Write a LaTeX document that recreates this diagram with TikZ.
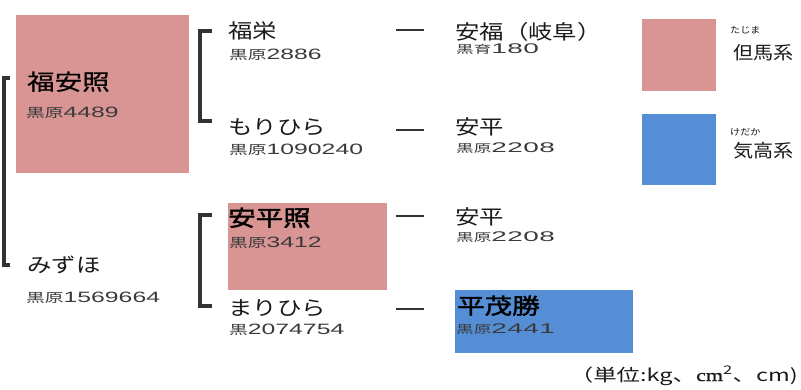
\documentclass[tikz,border=0pt]{standalone}
\usepackage{fontspec}
\setmainfont{Noto Sans CJK JP}
\newfontfamily\nmfont{Noto Sans CJK JP}[FakeStretch=1.22]
\newfontfamily\hnfont{Noto Sans CJK JP}[FakeStretch=1.25,FakeBold=0.6]
\newfontfamily\bnfont{Noto Sans CJK JP}[FakeStretch=1.25,FakeBold=2]
\newfontfamily\kjfont{Noto Sans CJK JP}[FakeStretch=1.5]
\newfontfamily\kjfontR{Noto Sans CJK JP}[FakeStretch=1.6]
\newfontfamily\dgfont{Liberation Sans}[FakeStretch=1.65]
\newfontfamily\dgfontR{Liberation Sans}[FakeStretch=2.0,LetterSpace=3]
\newfontfamily\lgfont{Noto Sans CJK JP}[FakeStretch=1.12]
\newfontfamily\ftfont{Noto Sans CJK JP}[FakeStretch=1.38]
\newfontfamily\serfont{Liberation Serif}[FakeStretch=1.3,FakeBold=1]
\definecolor{pinkc}{HTML}{D99594}
\definecolor{bluec}{HTML}{558ED5}
\definecolor{lnc}{HTML}{333333}
\definecolor{txt}{HTML}{1A1A1A}
\definecolor{subc}{HTML}{3A3A3A}
\newcommand\sublab[2]{{\fontsize{12.5}{12.5}\kjfont #1}{\fontsize{15}{15}\dgfont #2}}
\newcommand\sublabR[2]{{\fontsize{11}{11}\kjfontR #1}{\fontsize{14}{14}\dgfontR #2}}
\begin{document}
\begin{tikzpicture}[x=1pt,y=-1pt,
  nm/.style={anchor=base west, inner sep=0, font=\fontsize{20}{20}\nmfont, text=txt},
  hnm/.style={anchor=base west, inner sep=0, font=\fontsize{22}{22}\hnfont, text=black},
  bnm/.style={anchor=base west, inner sep=0, font=\fontsize{22}{22}\bnfont, text=black},
  sub/.style={anchor=base west, inner sep=0, text=subc},
  lg/.style={anchor=base west, inner sep=0, font=\fontsize{18}{18}\lgfont, text=txt},
  ruby/.style={anchor=base west, inner sep=0, font=\fontsize{9}{9}\lgfont, text=txt},
  br/.style={draw=lnc, line width=3.5pt},
  dsh/.style={draw=lnc, line width=2.5pt},
  boxp/.style={fill=pinkc, draw=none, inner sep=0, anchor=north west},
  boxb/.style={fill=bluec, draw=none, inner sep=0, anchor=north west}]
\useasboundingbox (0,0) rectangle (801,389);
% colored boxes
\node[boxp, minimum width=173pt, minimum height=158pt] (box1) at (16,15) {};
\node[boxp, minimum width=159pt, minimum height=87pt] (box2) at (228,203) {};
\node[boxb, minimum width=178pt, minimum height=63pt] (box3) at (455,290) {};
\node[boxp, minimum width=74pt, minimum height=72pt] (lgp) at (642,19) {};
\node[boxb, minimum width=74pt, minimum height=71pt] (lgb) at (642,114) {};
% generation 1
\node[hnm] (fukuyasu) at (27,90) {福安照};
\node[sub] (fukuyasuN) at (26,117) {\sublab{黒原}{4489}};
\node[nm] (mizuho) at (27,272) {みずほ};
\node[sub] (mizuhoN) at (26,302) {\sublab{黒原}{1569664}};
% generation 2
\node[nm] (fukuei) at (228,38) {福栄};
\node[sub] (fukueiN) at (229,59) {\sublab{黒原}{2886}};
\node[nm] (morihira) at (228,134) {もりひら};
\node[sub] (morihiraN) at (229,154) {\sublab{黒原}{1090240}};
\node[bnm] (yasuhira) at (228,226) {安平照};
\node[sub] (yasuhiraN) at (229,247) {\sublab{黒原}{3412}};
\node[nm] (marihira) at (228,315) {まりひら};
\node[sub] (marihiraN) at (229,334) {\sublab{黒}{2074754}};
% generation 3
\node[nm] (anpuku) at (455,39) {安福（岐阜）};
\node[sub] (anpukuN) at (456,53) {\sublabR{黒育}{180}};
\node[nm] (anpei1) at (455,134) {安平};
\node[sub] (anpei1N) at (456,152) {\sublabR{黒原}{2208}};
\node[nm] (anpei2) at (455,224) {安平};
\node[sub] (anpei2N) at (456,241) {\sublabR{黒原}{2208}};
\node[bnm] (hirashige) at (457,314) {平茂勝};
\node[sub] (hirashigeN) at (456,333) {\sublabR{黒原}{2441}};
% legend
\node[ruby] (tajimaR) at (730,33) {たじま};
\node[lg] (tajima) at (733,59) {但馬系};
\node[ruby] (kedakaR) at (730,135) {けだか};
\node[lg] (kedaka) at (733,157) {気高系};
% footer
\node[anchor=base east, inner sep=0, font=\fontsize{17}{17}\ftfont, text=txt] (unit) at (798,381)
  {（単位:kg、{\serfont cm}\textsuperscript{2}、cm)};
% brackets
\coordinate (a1) at (10,78); \coordinate (a2) at (4,78);
\coordinate (a3) at (4,265); \coordinate (a4) at (10,265);
\draw[br] (a1) -- (a2) -- (a3) -- (a4);
\coordinate (b1) at (212,31); \coordinate (b2) at (200,31);
\coordinate (b3) at (200,121); \coordinate (b4) at (212,121);
\draw[br] (b1) -- (b2) -- (b3) -- (b4);
\coordinate (c1) at (212,215); \coordinate (c2) at (200,215);
\coordinate (c3) at (200,306); \coordinate (c4) at (212,306);
\draw[br] (c1) -- (c2) -- (c3) -- (c4);
% dashes
\coordinate (d1a) at (396,30);  \coordinate (d1b) at (424,30);
\coordinate (d2a) at (396,130); \coordinate (d2b) at (424,130);
\coordinate (d3a) at (396,216); \coordinate (d3b) at (424,216);
\coordinate (d4a) at (396,309); \coordinate (d4b) at (424,309);
\draw[dsh] (d1a) -- (d1b);
\draw[dsh] (d2a) -- (d2b);
\draw[dsh] (d3a) -- (d3b);
\draw[dsh] (d4a) -- (d4b);
\end{tikzpicture}
\end{document}
